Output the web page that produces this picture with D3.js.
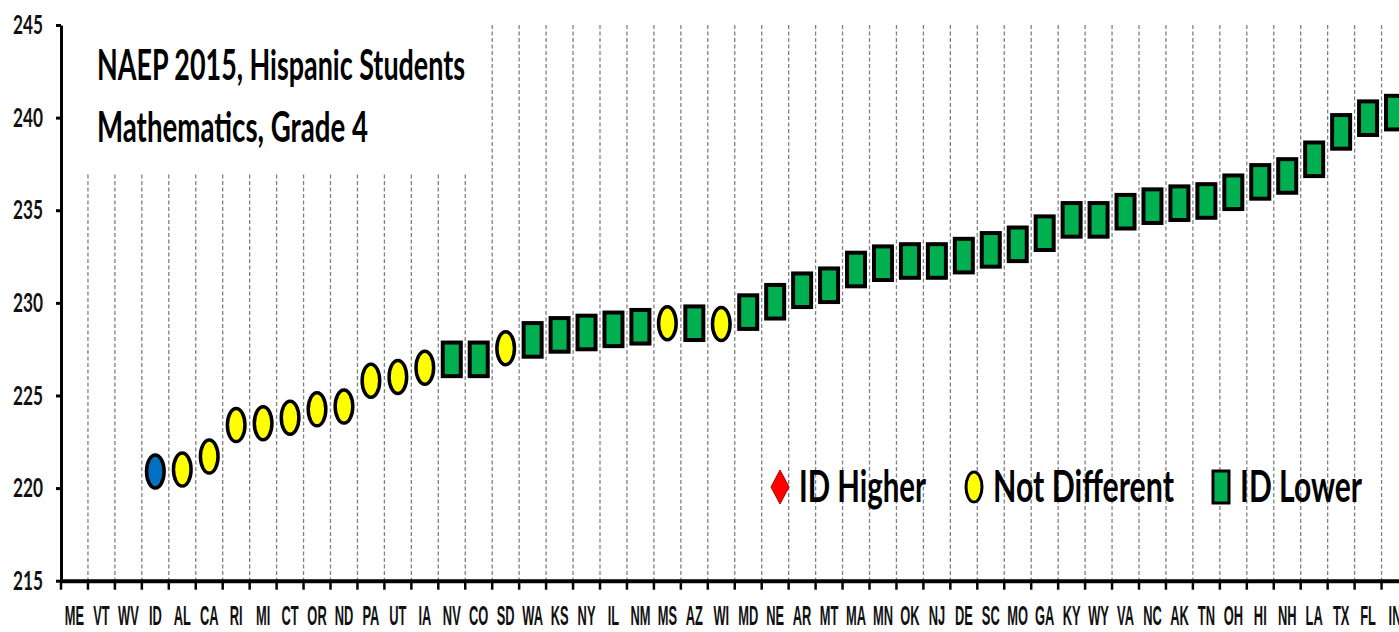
<!DOCTYPE html>
<html>
<head>
<meta charset="utf-8">
<script src="https://cdn.jsdelivr.net/npm/d3@7"></script>
<style>
  body { margin: 0; background: #fff; }
  svg { display: block; }
</style>
</head>
<body>
<svg width="1399" height="632"></svg>
<script>
/* Data */

var states = ["ME","VT","WV","ID","AL","CA","RI","MI","CT","OR","ND","PA","UT","IA","NV","CO","SD",
              "WA","KS","NY","IL","NM","MS","AZ","WI","MD","NE","AR","MT","MA","MN","OK","NJ","DE",
              "SC","MO","GA","KY","WY","VA","NC","AK","TN","OH","HI","NH","LA","TX","FL","IN"];

var scores = [null, null, null, 220.9, 221.0, 221.7, 223.4, 223.5, 223.8, 224.25, 224.4, 225.8, 226.0,
              226.5, 226.95, 226.95, 227.55, 228.0, 228.27, 228.4, 228.57, 228.71, 228.9, 228.9, 228.86,
              229.5, 230.06, 230.68, 230.95, 231.8, 232.14, 232.26, 232.26, 232.55, 232.86, 233.16,
              233.76, 234.48, 234.48, 234.92, 235.22, 235.38, 235.5, 235.97, 236.53, 236.85, 237.75,
              239.23, 239.97, 240.27];

// focal = ID, same = not different, lower = ID lower
var groups = ["none","none","none","focal","same","same","same","same","same","same","same","same","same",
              "same","lower","lower","same","lower","lower","lower","lower","lower","same","lower","same",
              "lower","lower","lower","lower","lower","lower","lower","lower","lower","lower","lower",
              "lower","lower","lower","lower","lower","lower","lower","lower","lower","lower","lower",
              "lower","lower","lower"];

var yTicks = [215, 220, 225, 230, 235, 240, 245];
var titleLines = ["NAEP 2015, Hispanic Students", "Mathematics, Grade 4"];
var legendLabels = ["ID Higher", "Not Different", "ID Lower"];
var legendGroups = ["higher", "same", "lower"];

var colors = { focal: "#0070C0", same: "#FFFF00", lower: "#00B050", higher: "#FF0000" };

/* Setup */

var svg = d3.select("svg");

var x = d3.scaleBand()
    .domain(states)
    .range([61, 1408.5])
    .padding(0);

var y = d3.scaleLinear()
    .domain([215, 245])
    .range([580.7, 25]);

var points = states.map((s, i) => ({ state: s, score: scores[i], group: groups[i] }))
    .filter((d) => d.score !== null);

/* Gridlines (dashed, at category boundaries) */

svg.append("g")
  .selectAll("line")
  .data(states.slice(1))
  .enter().append("line")
    .attr("x1", (d) => x(d))
    .attr("x2", (d) => x(d))
    .attr("y1", y(245))
    .attr("y2", y(215))
    .attr("stroke", "#808080")
    .attr("stroke-width", 1.3)
    .attr("stroke-dasharray", "4,2.5");

/* Title box */

svg.append("rect")
    .attr("x", 64)
    .attr("y", 20)
    .attr("width", 414)
    .attr("height", 154)
    .attr("fill", "#fff");

var titleWidths = [368, 271];
svg.selectAll(".title")
  .data(titleLines)
  .enter().append("text")
    .classed("title", true)
    .attr("x", 97)
    .attr("y", (d, i) => 80 + i * 62)
    .attr("font-family", "Lato, 'Open Sans', sans-serif")
    .attr("font-weight", "bold")
    .attr("font-size", 42)
    .attr("textLength", (d, i) => titleWidths[i])
    .attr("lengthAdjust", "spacingAndGlyphs")
    .attr("fill", "#000")
    .text((d) => d);

/* Axes */

var yAxis = svg.append("g")
    .attr("transform", "translate(61,0)")
    .call(d3.axisLeft(y).tickValues(yTicks).tickSize(5).tickSizeOuter(0).tickPadding(13));

yAxis.select(".domain").attr("stroke", "#000").attr("stroke-width", 3);
yAxis.selectAll(".tick line").attr("stroke", "#000").attr("stroke-width", 3);
yAxis.selectAll(".tick text")
    .attr("font-family", "Lato, sans-serif")
    .attr("font-weight", "bold")
    .attr("font-size", 27)
    .attr("fill", "#111")
    .attr("textLength", 30)
    .attr("lengthAdjust", "spacingAndGlyphs");

var xAxis = svg.append("g")
    .attr("transform", "translate(0," + y(215) + ")")
    .call(d3.axisBottom(x).tickSize(0).tickSizeOuter(0));

xAxis.select(".domain").attr("stroke", "#000").attr("stroke-width", 4);
xAxis.selectAll(".tick text")
    .attr("y", 44.5)
    .attr("dy", 0)
    .attr("font-family", "'Liberation Sans', Arial, sans-serif")
    .attr("font-weight", "bold")
    .attr("font-size", 28)
    .attr("fill", "#111")
    .attr("transform", "scale(0.46,1)");

// boundary ticks
xAxis.append("g")
  .selectAll("line")
  .data(states)
  .enter().append("line")
    .attr("x1", (d) => x(d))
    .attr("x2", (d) => x(d))
    .attr("y1", 0)
    .attr("y2", 9)
    .attr("stroke", "#000")
    .attr("stroke-width", 2.5);

/* Markers */

var cx = (d) => x(d.state) + x.bandwidth() / 2;

svg.append("g")
  .selectAll("ellipse")
  .data(points.filter((d) => d.group !== "lower"))
  .enter().append("ellipse")
    .attr("cx", cx)
    .attr("cy", (d) => y(d.score))
    .attr("rx", 8.8)
    .attr("ry", 16.5)
    .attr("fill", (d) => colors[d.group])
    .attr("stroke", "#000")
    .attr("stroke-width", 3.5);

svg.append("g")
  .selectAll("rect")
  .data(points.filter((d) => d.group === "lower"))
  .enter().append("rect")
    .attr("x", (d) => cx(d) - 9)
    .attr("y", (d) => y(d.score) - 16.8)
    .attr("width", 18)
    .attr("height", 33.6)
    .attr("fill", colors.lower)
    .attr("stroke", "#000")
    .attr("stroke-width", 4);

/* Legend */

var legendMarkX = [780, 974, 1221];
var legendTextW = [127, 181, 122];
var ly = 487;

var legend = svg.append("g")
  .selectAll("g")
  .data(legendLabels)
  .enter().append("g");

legend.each(function(d, i) {
  var g = d3.select(this);
  var mx = legendMarkX[i];
  var grp = legendGroups[i];
  if(grp === "higher") {
    g.append("path")
      .attr("d", `M${mx},${ly - 17} L${mx + 9},${ly} L${mx},${ly + 17} L${mx - 9},${ly} Z`)
      .attr("fill", colors.higher)
      .attr("stroke", "#b00000")
      .attr("stroke-width", 1);
  } else if(grp === "same") {
    g.append("ellipse")
      .attr("cx", mx).attr("cy", ly)
      .attr("rx", 8).attr("ry", 15)
      .attr("fill", colors.same)
      .attr("stroke", "#000")
      .attr("stroke-width", 3);
  } else {
    g.append("rect")
      .attr("x", mx - 8).attr("y", ly - 16)
      .attr("width", 16).attr("height", 32)
      .attr("fill", colors.lower)
      .attr("stroke", "#000")
      .attr("stroke-width", 3);
  }
  g.append("text")
    .attr("x", mx + 19)
    .attr("y", ly + 15)
    .attr("font-family", "Lato, 'Open Sans', sans-serif")
    .attr("font-weight", "bold")
    .attr("font-size", 44)
    .attr("textLength", legendTextW[i])
    .attr("lengthAdjust", "spacingAndGlyphs")
    .attr("fill", "#000")
    .text(d);
});
</script>
</body>
</html>
